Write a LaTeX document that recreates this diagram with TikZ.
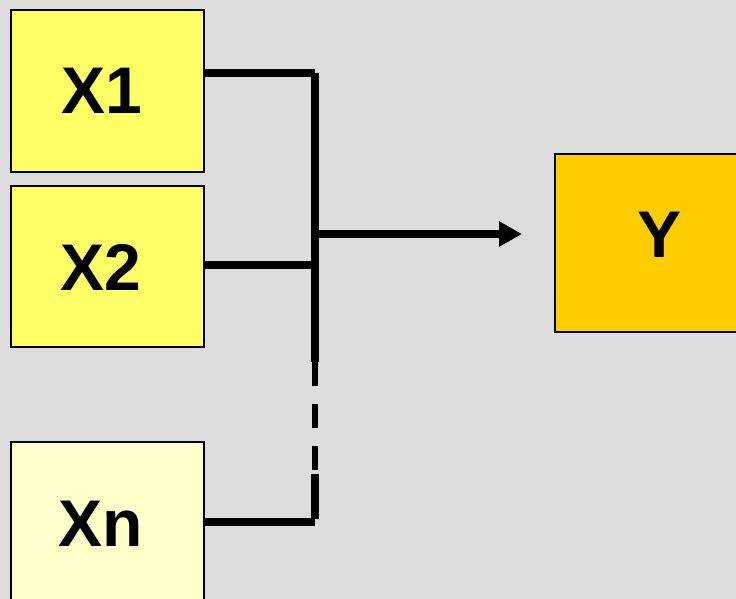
\documentclass[tikz,border=0pt]{standalone}
\usepackage{fontspec}
\setmainfont{Liberation Sans}
\usetikzlibrary{arrows.meta}
\definecolor{bg}{HTML}{DDDDDD}
\definecolor{xfill}{HTML}{FFFF66}
\definecolor{xnfill}{HTML}{FFFFCC}
\definecolor{yfill}{HTML}{FFCC00}
\tikzset{
  box/.style={draw=black, line width=2pt, rectangle, anchor=north west, inner sep=0pt},
  lbl/.style={inner sep=0pt, anchor=center, font=\fontsize{66}{66}\selectfont\bfseries},
  wire/.style={line width=7.5pt, line cap=butt},
  dashwire/.style={line width=6pt, dash pattern=on 24pt off 18pt},
}
\begin{document}
\begin{tikzpicture}[x=1pt,y=-1pt]
\fill[bg] (0,0) rectangle (736,599);
\useasboundingbox (0,0) rectangle (736,599);
\begin{scope}
\clip (0,0) rectangle (736,599);
\node[box, fill=xfill, minimum width=193pt, minimum height=162pt] (x1) at (10,9) {};
\node[box, fill=xfill, minimum width=193pt, minimum height=161pt] (x2) at (10,185) {};
\node[box, fill=xnfill, minimum width=193pt, minimum height=162pt] (xn) at (10,441) {};
\node[box, fill=yfill, minimum width=210pt, minimum height=178pt] (y) at (554,153) {};
\end{scope}
\node[lbl] (t1) at (102,90.5) {X1};
\node[lbl] (t2) at (101,267) {X2};
\node[lbl] (tn) at (101,523.5) {Xn};
\node[lbl] (ty) at (660,234.5) {Y};
% bus coordinates
\coordinate (b1) at (315,73);
\coordinate (b2) at (315,265);
\coordinate (bn) at (315,522);
\coordinate (d1) at (315,362);
\coordinate (d2) at (315,470);
\coordinate (d3) at (315,474);
\coordinate (bo) at (315,234);
\coordinate (tip) at (522,234);
\draw[wire] (x1.east |- b1) -- (b1);
\draw[wire] (x2.east |- b2) -- (b2);
\draw[wire] (xn.east |- bn) -- (bn);
\draw[wire] ([yshift=-0.5pt]b1) -- (d1);
\draw[dashwire] (d1) -- (d2);
\draw[wire] (d3) -- ([yshift=3.5pt]bn);
\draw[wire, -{Triangle[length=23pt,width=24pt]}] (bo) -- (tip);
\end{tikzpicture}
\end{document}
